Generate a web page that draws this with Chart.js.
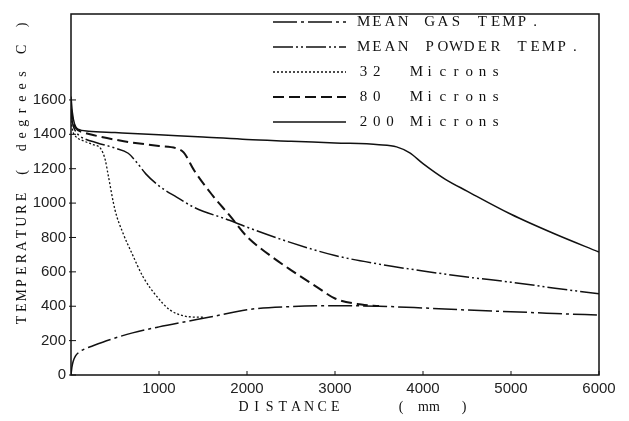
<!DOCTYPE html>
<html>
<head>
<meta charset="utf-8">
<script src="https://cdn.jsdelivr.net/npm/chart.js@4.4.0/dist/chart.umd.min.js"></script>
<style>
  html, body { margin: 0; padding: 0; background: #fff; }
  #wrap { width: 629px; height: 421px; }
</style>
</head>
<body>
<div id="wrap"><canvas id="chart" width="629" height="421"></canvas></div>
<script>
// axis ticks
const xTicks = [1000, 2000, 3000, 4000, 5000, 6000];
const yTicks = [0, 200, 400, 600, 800, 1000, 1200, 1400, 1600];

// mean gas temp (dash-dot)
const gasDist = [0, 10, 25, 50, 90, 140, 250, 440, 700, 1000, 1300, 1580, 2000, 2500, 3000, 3500, 4000, 4500, 5000, 5500, 6000];
const gasTemp = [0, 45, 80, 110, 132, 148, 170, 205, 245, 280, 310, 337, 380, 398, 403, 400, 390, 378, 368, 358, 348];

// mean powder temp (dash-dot-dot)
const powderDist = [0, 20, 50, 100, 150, 300, 500, 650, 750, 850, 1000, 1200, 1400, 1800, 2000, 2500, 3000, 3500, 4000, 4500, 5000, 5500, 6000];
const powderTemp = [1530, 1460, 1420, 1390, 1375, 1350, 1320, 1290, 1235, 1170, 1100, 1035, 975, 900, 860, 770, 695, 645, 605, 570, 540, 505, 472];

// 32 microns (dotted)
const p32Dist = [0, 20, 50, 150, 250, 340, 390, 420, 500, 590, 690, 820, 980, 1125, 1270, 1390, 1500];
const p32Temp = [1480, 1420, 1390, 1360, 1340, 1315, 1250, 1170, 960, 826, 710, 570, 454, 378, 345, 337, 336];

// 80 microns (dashed)
const p80Dist = [0, 20, 50, 150, 250, 600, 1000, 1200, 1280, 1400, 1600, 1800, 2000, 2250, 2500, 2800, 3000, 3300, 3500];
const p80Temp = [1550, 1480, 1440, 1410, 1396, 1360, 1332, 1318, 1295, 1190, 1050, 930, 805, 700, 610, 510, 445, 410, 401];

// 200 microns (solid)
const p200Dist = [0, 15, 40, 80, 200, 500, 1000, 1500, 2000, 2500, 3000, 3500, 3700, 3850, 4000, 4250, 4500, 5000, 5500, 6000];
const p200Temp = [1620, 1530, 1460, 1430, 1418, 1410, 1397, 1385, 1370, 1360, 1350, 1340, 1327, 1292, 1230, 1140, 1070, 935, 820, 715];

const ink = "#111";
const pts = (d, t) => d.map((v, i) => ({ x: v, y: t[i] }));

// draw text on a fixed character grid (typewriter look)
function drawCells(ctx, text, x, y, cell) {
  for (let i = 0; i < text.length; i++) {
    ctx.fillText(text[i], x + i * cell + cell / 2, y);
  }
}

const framePlugin = {
  id: "frame",
  afterDraw(chart) {
    const { ctx, chartArea: a, scales } = chart;
    ctx.save();
    ctx.strokeStyle = ink;
    ctx.lineWidth = 1.5;
    ctx.setLineDash([]);
    ctx.strokeRect(a.left, a.top, a.right - a.left, a.bottom - a.top);
    // inward tick marks
    ctx.lineWidth = 1;
    ctx.beginPath();
    xTicks.forEach((v) => {
      const px = scales.x.getPixelForValue(v);
      ctx.moveTo(px, a.bottom);
      ctx.lineTo(px, a.bottom - 4);
    });
    yTicks.forEach((v) => {
      const py = scales.y.getPixelForValue(v);
      ctx.moveTo(a.left - 2, py);
      ctx.lineTo(a.left + 5, py);
    });
    ctx.stroke();

    // legend inside the plot
    ctx.fillStyle = ink;
    ctx.textAlign = "center";
    ctx.textBaseline = "middle";
    ctx.font = "15px 'Liberation Serif'";
    const rows = [22, 47, 72, 97, 122];
    chart.data.datasets.forEach((ds, i) => {
      const y = rows[i];
      ctx.save();
      ctx.lineWidth = ds.borderWidth;
      ctx.setLineDash(ds.borderDash || []);
      ctx.beginPath();
      ctx.moveTo(273, y);
      ctx.lineTo(346, y);
      ctx.stroke();
      ctx.restore();
      drawCells(ctx, ds.label, 357, y, 13.2);
    });

    // axis titles
    ctx.font = "14px 'Liberation Serif'";
    drawCells(ctx, "DISTANCE", 237, 407, 13.1);
    ctx.fillText("(", 401, 407);
    ctx.fillText("mm", 429, 407);
    ctx.fillText(")", 464, 407);
    const yTitle = "TEMPERATURE ( degrees C )";
    for (let i = 0; i < yTitle.length; i++) {
      ctx.save();
      ctx.translate(22, 320 - i * 12.3);
      ctx.rotate(-Math.PI / 2);
      ctx.fillText(yTitle[i], 0, 0);
      ctx.restore();
    }
    ctx.restore();
  },
};

const common = {
  borderColor: ink,
  backgroundColor: ink,
  pointRadius: 0,
  fill: false,
  cubicInterpolationMode: "monotone",
};

const tickFont = { family: "'Liberation Sans'", size: 15 };

new Chart(document.getElementById("chart"), {
  type: "line",
  data: {
    datasets: [
      { ...common, label: "MEAN GAS TEMP.", data: pts(gasDist, gasTemp), borderWidth: 1.5, borderDash: [24, 4, 3, 4] },
      { ...common, label: "MEAN POWDER TEMP.", data: pts(powderDist, powderTemp), borderWidth: 1.5, borderDash: [20, 3, 2, 3, 2, 3] },
      { ...common, label: "32  Microns", data: pts(p32Dist, p32Temp), borderWidth: 1.3, borderDash: [2, 2] },
      { ...common, label: "80  Microns", data: pts(p80Dist, p80Temp), borderWidth: 2, borderDash: [11, 5] },
      { ...common, label: "200 Microns", data: pts(p200Dist, p200Temp), borderWidth: 1.5, borderDash: [] },
    ],
  },
  options: {
    responsive: false,
    animation: false,
    layout: { padding: { top: 14, right: 30, left: 0, bottom: 0 } },
    plugins: { legend: { display: false }, tooltip: { enabled: false } },
    scales: {
      x: {
        type: "linear",
        min: 0,
        max: 6000,
        afterBuildTicks: (axis) => { axis.ticks = xTicks.map((v) => ({ value: v })); },
        afterFit: (scale) => { scale.height = 46; },
        grid: { display: false, drawTicks: false },
        border: { display: false },
        ticks: { color: "#222", font: tickFont, padding: 5, maxRotation: 0, callback: (v) => String(v) },
      },
      y: {
        min: 0,
        max: 2100,
        afterBuildTicks: (axis) => { axis.ticks = yTicks.map((v) => ({ value: v })); },
        afterFit: (scale) => { scale.width = 71; },
        grid: { display: false, drawTicks: false },
        border: { display: false },
        ticks: { color: "#222", font: tickFont, padding: 5, callback: (v) => String(v) },
      },
    },
  },
  plugins: [framePlugin],
});
</script>
</body>
</html>
